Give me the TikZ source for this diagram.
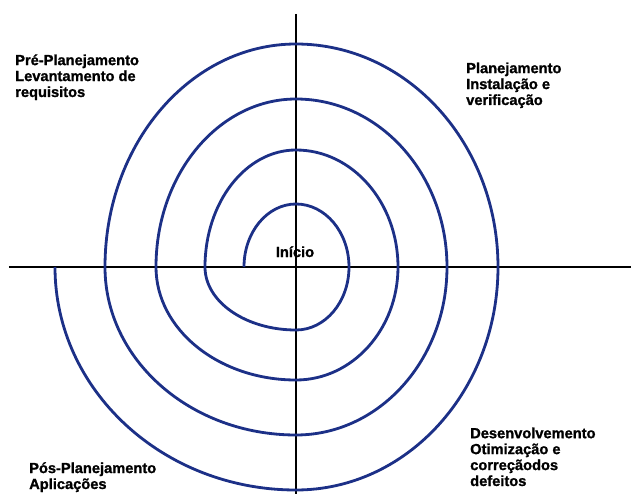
\documentclass[tikz,border=0pt]{standalone}
\usepackage{fontspec}
\newfontfamily\labelfont[BoldFont={Liberation Sans Bold}, BoldFeatures={FakeBold=1.2}]{Liberation Sans}
\usepackage{tikz}
\definecolor{spiralblue}{RGB}{28,48,135}

\begin{document}
\begin{tikzpicture}[x=0.03cm, y=0.03cm,
  every node/.style={font=\labelfont\bfseries\fontsize{12.5}{13.6}\selectfont, align=left, inner sep=0pt, anchor=base west}]
  \useasboundingbox (-296,-227) rectangle (335,267);
  \coordinate (top) at (0,253);
  \coordinate (bottom) at (0,-227);
  \coordinate (left) at (-287,0);
  \coordinate (right) at (335,0);
  \draw[line width=1.6pt] (top) -- (bottom);
  \draw[line width=1.6pt] (left) -- (right);
  \draw[spiralblue, line width=2.4pt]
    (-52,0) arc[start angle=180, end angle=90, x radius=52, y radius=63]
            arc[start angle=90, end angle=0, x radius=53, y radius=63]
            arc[start angle=0, end angle=-90, x radius=53, y radius=63]
            arc[start angle=-90, end angle=-180, x radius=91, y radius=63]
            arc[start angle=180, end angle=90, x radius=91, y radius=117]
            arc[start angle=90, end angle=0, x radius=102, y radius=117]
            arc[start angle=0, end angle=-90, x radius=102, y radius=113]
            arc[start angle=-90, end angle=-180, x radius=140, y radius=113]
            arc[start angle=180, end angle=90, x radius=140, y radius=168]
            arc[start angle=90, end angle=0, x radius=151, y radius=168]
            arc[start angle=0, end angle=-90, x radius=151, y radius=168]
            arc[start angle=-90, end angle=-180, x radius=191, y radius=168]
            arc[start angle=180, end angle=90, x radius=191, y radius=223]
            arc[start angle=90, end angle=0, x radius=202, y radius=223]
            arc[start angle=0, end angle=-90, x radius=202, y radius=223]
            arc[start angle=-90, end angle=-180, x radius=241, y radius=223];
  \node (inicio) [anchor=base] at (-1,10) {Início};
  % base anchor sits on the last line
  \node (pre) at (-281,170) {Pré-Planejamento\\Levantamento de\\requisitos};
  \node (plan) at (170,162) {Planejamento\\Instalação e\\verificação};
  \node (pos) at (-267,-222) {Pós-Planejamento\\Aplicações};
  \node (dev) at (174,-219) {Desenvolvemento\\Otimização e\\correçãodos\\defeitos};
\end{tikzpicture}
\end{document}
